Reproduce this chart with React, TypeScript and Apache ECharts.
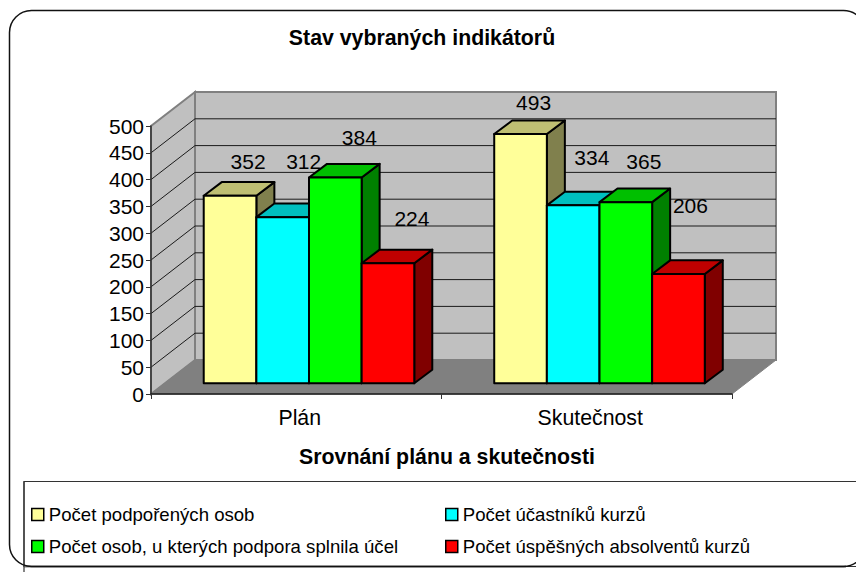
import React, { useEffect, useRef } from "react";
import * as echarts from "echarts";

// Data
const categories = ["Plán", "Skutečnost"];
const seriesNames = [
  "Počet podpořených osob",
  "Počet účastníků kurzů",
  "Počet osob, u kterých podpora splnila účel",
  "Počet úspěšných absolventů kurzů",
];
// Bar heights as drawn in the reference
const podporenych = [350, 465];
const ucastniku = [310, 332];
const ucel = [384, 338];
const absolventu = [224, 204];
// Numbers printed beside the bars in the reference
const printedLabels = [
  [352, 493],
  [312, 334],
  [384, 365],
  [224, 206],
];
const yTicks = [0, 50, 100, 150, 200, 250, 300, 350, 400, 450, 500];

const barValues = [podporenych, ucastniku, ucel, absolventu];
const faceColors = ["#FFFF99", "#00FFFF", "#00FF00", "#FF0000"];
const topColors = ["#BFBF73", "#00BFBF", "#00BF00", "#BF0000"];
const sideColors = ["#80804D", "#008080", "#008000", "#800000"];

// Layout of the pseudo-3D box, in pixels
const WALL_DX = 44;
const WALL_DY = -34;
const BAR_DX = 18;
const BAR_DY = -13.6;
const BAR_FRONT_SHIFT_Y = -10.7;
const BAR_CENTER_SHIFT_X = 12.75;
const BAR_BAND_RATIO = 0.1812;
// Manual placement of each printed label relative to its bar's top centre
const labelNudges = [
  [[18, -34], [13, -32]],
  [[21, -56], [18.7, -48]],
  [[24, -40], [18, -41]],
  [[24, -45], [12, -68]],
];

const FONT = '"Liberation Sans", Arial, sans-serif';

function renderWalls(params: any, api: any) {
  const cs = params.coordSys;
  const x0 = cs.x;
  const x1 = cs.x + cs.width;
  const yBottom = cs.y + cs.height;
  const yTop = cs.y;
  const wallStyle = { fill: "#C0C0C0", stroke: "#808080", lineWidth: 2 };
  const children: any[] = [
    {
      type: "polygon",
      shape: { points: [[x0, yBottom], [x0, yTop], [x0 + WALL_DX, yTop + WALL_DY], [x0 + WALL_DX, yBottom + WALL_DY]] },
      style: wallStyle,
    },
    {
      type: "rect",
      shape: { x: x0 + WALL_DX, y: yTop + WALL_DY, width: x1 - x0, height: yBottom - yTop },
      style: wallStyle,
    },
  ];
  yTicks.slice(1, -1).forEach((t) => {
    const y = api.coord([0, t])[1];
    const line = { stroke: "#1a1a1a", lineWidth: 1 };
    children.push({
      type: "polyline",
      shape: { points: [[x0, y], [x0 + WALL_DX, y + WALL_DY], [x1 + WALL_DX, y + WALL_DY]] },
      style: { ...line, fill: null },
    });
  });
  children.push({
    type: "polygon",
    shape: { points: [[x0, yBottom], [x0 + WALL_DX, yBottom + WALL_DY], [x1 + WALL_DX, yBottom + WALL_DY], [x1, yBottom]] },
    style: { fill: "#808080", stroke: "#808080", lineWidth: 1 },
  });
  return { type: "group", children };
}

function barGeometry(api: any, cat: number, value: number, slot: number) {
  const band = api.size([1, 0])[0];
  const w = band * BAR_BAND_RATIO;
  const center = api.coord([cat, 0])[0] + BAR_CENTER_SHIFT_X;
  const left = center - 2 * w + slot * w;
  const base = api.coord([cat, 0])[1] + BAR_FRONT_SHIFT_Y;
  const top = api.coord([cat, value])[1] + BAR_FRONT_SHIFT_Y;
  return { left, right: left + w, top, base, w };
}

function makeBarRenderer(slot: number) {
  return (_p: any, api: any) => {
    const g = barGeometry(api, api.value(0), api.value(1), slot);
    const edge = { stroke: "#000", lineWidth: 2, lineJoin: "round" };
    return {
      type: "group",
      children: [
        {
          type: "polygon",
          shape: { points: [[g.right, g.base], [g.right, g.top], [g.right + BAR_DX, g.top + BAR_DY], [g.right + BAR_DX, g.base + BAR_DY]] },
          style: { ...edge, fill: sideColors[slot] },
        },
        {
          type: "polygon",
          shape: { points: [[g.left, g.top], [g.right, g.top], [g.right + BAR_DX, g.top + BAR_DY], [g.left + BAR_DX, g.top + BAR_DY]] },
          style: { ...edge, fill: topColors[slot] },
        },
        {
          type: "rect",
          shape: { x: g.left, y: g.top, width: g.w, height: g.base - g.top },
          style: { ...edge, fill: faceColors[slot] },
        },
      ],
    };
  };
}

function renderLabel(_p: any, api: any) {
  const cat = api.value(0);
  const slot = api.value(2);
  const g = barGeometry(api, cat, api.value(1), slot);
  const nudge = labelNudges[slot][cat];
  return {
    type: "text",
    x: g.left + g.w / 2 + nudge[0],
    y: g.top + nudge[1],
    style: {
      text: String(printedLabels[slot][cat]),
      fill: "#000",
      font: `21px ${FONT}`,
      align: "center",
      verticalAlign: "middle",
    },
  };
}

const labelRows: number[][] = [];
barValues.forEach((vals, slot) => vals.forEach((v, cat) => labelRows.push([cat, v, slot])));

export default function App() {
  const ref = useRef<HTMLDivElement>(null);
  useEffect(() => {
    document.body.style.margin = "0";
    const chart = echarts.init(ref.current!, null, { renderer: "svg" });
    const legendBase = {
      orient: "vertical" as const,
      top: 505,
      padding: 0,
      itemGap: 13,
      itemWidth: 12,
      itemHeight: 12,
      icon: "rect",
      selectedMode: false,
      itemStyle: { borderColor: "#000", borderWidth: 1.5 },
      textStyle: { fontFamily: FONT, fontSize: 18.6, color: "#000", padding: [0, 0, 0, 0] },
    };
    chart.setOption({
      animation: false,
      backgroundColor: "#fff",
      title: [
        {
          text: "Stav vybraných indikátorů",
          left: 422,
          top: 27,
          textAlign: "center",
          padding: 0,
          textStyle: { fontFamily: FONT, fontSize: 21.3, fontWeight: "bold", color: "#000" },
        },
        {
          text: "Srovnání plánu a skutečnosti",
          left: 447,
          top: 446,
          textAlign: "center",
          padding: 0,
          textStyle: { fontFamily: FONT, fontSize: 21.3, fontWeight: "bold", color: "#000" },
        },
      ],
      grid: { left: 151, right: 124, top: 126, bottom: 178, containLabel: false },
      xAxis: {
        type: "category",
        data: categories,
        z: 5,
        axisLine: { lineStyle: { color: "#1a1a1a", width: 1.5 } },
        axisTick: { show: true, length: 5, alignWithLabel: false, lineStyle: { color: "#333" } },
        axisLabel: { fontFamily: FONT, fontSize: 21.3, color: "#000", margin: 13, padding: [0, 0, 0, 7] },
        splitLine: { show: false },
      },
      yAxis: {
        type: "value",
        min: 0,
        max: 500,
        interval: 50,
        z: 5,
        axisLine: { show: true, lineStyle: { color: "#333", width: 1.5 } },
        axisTick: { show: true, length: 5, lineStyle: { color: "#333" } },
        axisLabel: { fontFamily: FONT, fontSize: 21, color: "#000", margin: 7 },
        splitLine: { show: false },
      },
      legend: [
        { ...legendBase, left: 31, data: [seriesNames[0], seriesNames[2]] },
        { ...legendBase, left: 445, data: [seriesNames[1], seriesNames[3]] },
      ],
      graphic: [
        {
          type: "rect",
          z: 1,
          shape: { x: 24, y: 481.5, width: 850, height: 85 },
          style: { fill: "#fff", stroke: "#333", lineWidth: 1.2 },
        },
        {
          type: "line",
          z: 2,
          shape: { x1: 24, y1: 566.5, x2: 846, y2: 566.5 },
          style: { stroke: "#808080", lineWidth: 2 },
        },
        {
          type: "line",
          z: 2,
          shape: { x1: 24, y1: 481.5, x2: 24, y2: 572 },
          style: { stroke: "#333", lineWidth: 1.2 },
        },
        {
          type: "rect",
          z: 3,
          shape: { x: 9.5, y: 10.5, width: 856, height: 556, r: 22 },
          style: { fill: null, stroke: "#111", lineWidth: 1.5 },
        },
      ],
      series: [
        {
          type: "custom",
          name: "walls",
          coordinateSystem: "cartesian2d",
          silent: true,
          z: 1,
          data: [[0, 0]],
          encode: { x: 0, y: 1 },
          renderItem: renderWalls,
        },
        ...barValues.map((vals, slot) => ({
          type: "custom",
          name: seriesNames[slot],
          coordinateSystem: "cartesian2d",
          z: 2 + slot,
          itemStyle: { color: faceColors[slot] },
          data: vals.map((v, cat) => [cat, v]),
          encode: { x: 0, y: 1 },
          renderItem: makeBarRenderer(slot),
        })),
        {
          type: "custom",
          name: "labels",
          coordinateSystem: "cartesian2d",
          z: 10,
          data: labelRows,
          encode: { x: 0, y: 1 },
          renderItem: renderLabel,
        },
      ],
    });
    return () => chart.dispose();
  }, []);
  return <div ref={ref} style={{ width: 856, height: 572, overflow: "hidden" }} />;
}
